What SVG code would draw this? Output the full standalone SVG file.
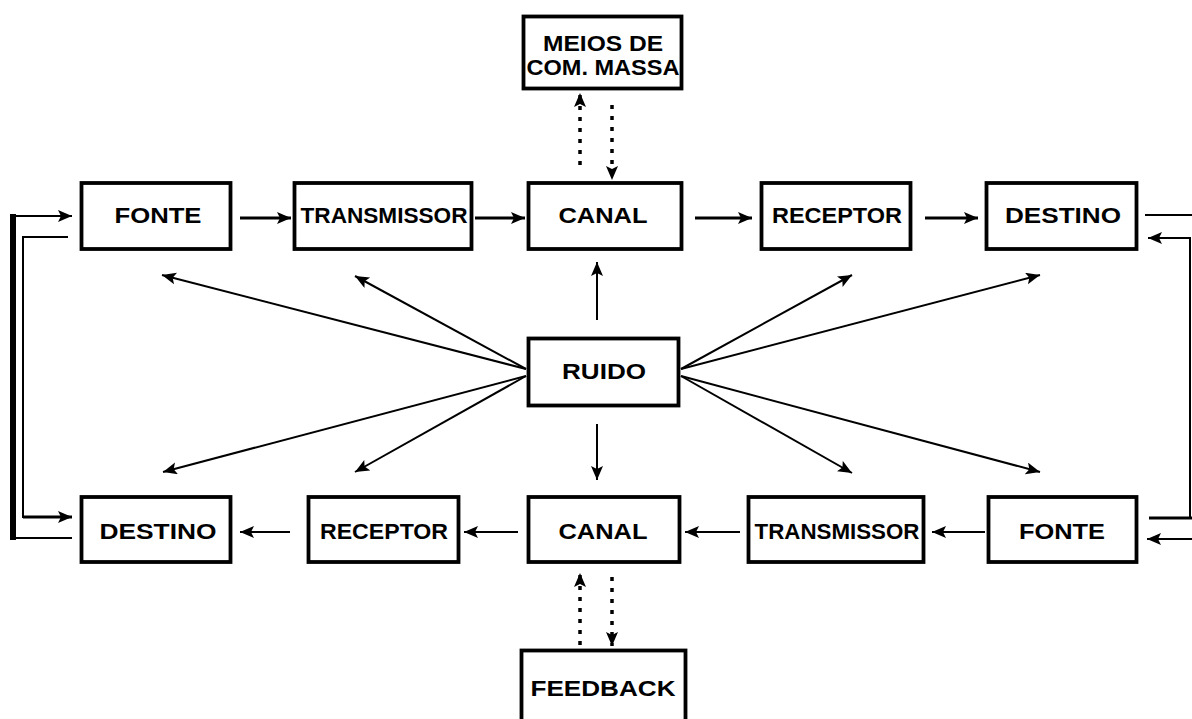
<svg xmlns="http://www.w3.org/2000/svg" width="1192" height="719" viewBox="0 0 1192 719">
<style>
.box{fill:#fff;stroke:#000;stroke-width:3.8}
.t{font-family:"Liberation Sans",Arial,sans-serif;font-weight:bold;font-size:22px;fill:#000;text-anchor:middle}
.a{stroke:#000;fill:none;marker-end:url(#ah)}
.w3{stroke-width:3}
.w2{stroke-width:2}
.d{stroke:#000;stroke-width:3.5;stroke-dasharray:4 7;fill:none;marker-end:url(#ah)}
.l{stroke:#000;fill:none}
</style>
<defs>
<marker id="ah" markerUnits="userSpaceOnUse" markerWidth="15" markerHeight="13" refX="14" refY="6" orient="auto">
<path d="M0,0 L14,6 L0,12 L3,6 z" fill="#000"/>
</marker>
</defs>
<rect width="1192" height="719" fill="#fff"/>
<g id="connectors">
<line class="a w3" x1="240" y1="218" x2="291" y2="218"/>
<line class="a w3" x1="475" y1="218" x2="525" y2="218"/>
<line class="a w3" x1="695" y1="218" x2="752" y2="218"/>
<line class="a w3" x1="925" y1="218" x2="978" y2="218"/>
<line class="a w2" x1="985" y1="532" x2="932" y2="532"/>
<line class="a w2" x1="740" y1="532" x2="685" y2="532"/>
<line class="a w2" x1="518" y1="532" x2="464" y2="532"/>
<line class="a w2" x1="290" y1="532" x2="240" y2="532"/>
<line class="d" x1="580" y1="165" x2="580" y2="93"/>
<line class="d" x1="612" y1="105" x2="612" y2="180"/>
<line class="d" x1="580" y1="645" x2="580" y2="573"/>
<line class="d" x1="612" y1="577" x2="612" y2="646"/>
<line class="a w2" x1="597" y1="320" x2="597" y2="262"/>
<line class="a w2" x1="597" y1="424" x2="597" y2="480"/>
<line class="a w2" x1="526" y1="369" x2="162" y2="275"/>
<line class="a w2" x1="526" y1="369" x2="355" y2="276"/>
<line class="a w2" x1="526" y1="376" x2="163" y2="472"/>
<line class="a w2" x1="526" y1="376" x2="355" y2="472"/>
<line class="a w2" x1="681" y1="369" x2="852" y2="275"/>
<line class="a w2" x1="681" y1="369" x2="1040" y2="275"/>
<line class="a w2" x1="681" y1="376" x2="852" y2="473"/>
<line class="a w2" x1="681" y1="376" x2="1040" y2="472"/>
<rect x="10" y="214" width="6" height="326" fill="#000"/>
<line class="a w2" x1="13" y1="216" x2="72" y2="216"/>
<polyline class="l w2" points="68,237 23,237 23,517 60,517"/>
<line class="a w3" x1="23" y1="517" x2="72" y2="517"/>
<line class="l w2" x1="72" y1="538" x2="13" y2="538"/>
<line class="l w2" x1="1145" y1="215" x2="1192" y2="215"/>
<polyline class="l w2" points="1190,518 1190,238 1170,238"/>
<line class="a w2" x1="1190" y1="238" x2="1148" y2="238"/>
<line class="l w3" x1="1149" y1="518" x2="1192" y2="518"/>
<line class="a w2" x1="1192" y1="539" x2="1147" y2="539"/>
</g>
<g id="meios"><rect class="box" x="523.5" y="16.5" width="158" height="72"/><text class="t" x="603" y="51" textLength="120" lengthAdjust="spacingAndGlyphs">MEIOS DE</text><text class="t" x="603" y="75" textLength="153" lengthAdjust="spacingAndGlyphs">COM. MASSA</text></g>
<g id="fonte1"><rect class="box" x="81.5" y="183" width="149" height="66"/><text class="t" x="158" y="223" textLength="87" lengthAdjust="spacingAndGlyphs">FONTE</text></g>
<g id="transmissor1"><rect class="box" x="294.5" y="183" width="177" height="66"/><text class="t" x="384" y="223" textLength="167" lengthAdjust="spacingAndGlyphs">TRANSMISSOR</text></g>
<g id="canal1"><rect class="box" x="528.5" y="183" width="153" height="66"/><text class="t" x="603" y="223" textLength="89" lengthAdjust="spacingAndGlyphs">CANAL</text></g>
<g id="receptor1"><rect class="box" x="761.5" y="183" width="149" height="66"/><text class="t" x="837" y="223" textLength="130" lengthAdjust="spacingAndGlyphs">RECEPTOR</text></g>
<g id="destino1"><rect class="box" x="986.5" y="183" width="150" height="66"/><text class="t" x="1063" y="223" textLength="116" lengthAdjust="spacingAndGlyphs">DESTINO</text></g>
<g id="ruido"><rect class="box" x="528.5" y="338.5" width="150" height="67"/><text class="t" x="604" y="379" textLength="84" lengthAdjust="spacingAndGlyphs">RUIDO</text></g>
<g id="destino2"><rect class="box" x="81.5" y="497" width="149" height="65"/><text class="t" x="158" y="539" textLength="117" lengthAdjust="spacingAndGlyphs">DESTINO</text></g>
<g id="receptor2"><rect class="box" x="308.5" y="497" width="150" height="65"/><text class="t" x="384" y="539" textLength="128" lengthAdjust="spacingAndGlyphs">RECEPTOR</text></g>
<g id="canal2"><rect class="box" x="528.5" y="497" width="151" height="65"/><text class="t" x="603" y="539" textLength="89" lengthAdjust="spacingAndGlyphs">CANAL</text></g>
<g id="transmissor2"><rect class="box" x="748.5" y="497" width="175" height="65"/><text class="t" x="837" y="539" textLength="165" lengthAdjust="spacingAndGlyphs">TRANSMISSOR</text></g>
<g id="fonte2"><rect class="box" x="988.5" y="497" width="148" height="65"/><text class="t" x="1062" y="539" textLength="86" lengthAdjust="spacingAndGlyphs">FONTE</text></g>
<g id="feedback"><rect class="box" x="521.5" y="650.5" width="164" height="100"/><text class="t" x="603" y="696" textLength="145" lengthAdjust="spacingAndGlyphs">FEEDBACK</text></g>
</svg>
